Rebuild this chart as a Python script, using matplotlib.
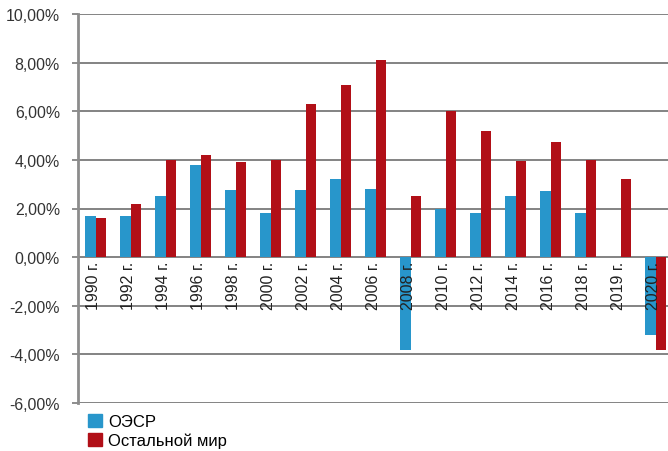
import matplotlib
matplotlib.use('Agg')
import matplotlib.pyplot as plt
from matplotlib import font_manager
from matplotlib.patches import Patch
import numpy as np

# Рост ВВП, % к предыдущему году
years = ['1990 г.', '1992 г.', '1994 г.', '1996 г.', '1998 г.', '2000 г.',
         '2002 г.', '2004 г.', '2006 г.', '2008 г.', '2010 г.', '2012 г.',
         '2014 г.', '2016 г.', '2018 г.', '2019 г.', '2020 г.']
oecd = [1.7, 1.7, 2.5, 3.8, 2.75, 1.8, 2.75, 3.2, 2.8, -3.8, 2.0, 1.8,
        2.5, 2.7, 1.8, 0.0, -3.2]
rest = [1.6, 2.2, 4.0, 4.2, 3.9, 4.0, 6.3, 7.1, 8.1, 2.5, 6.0, 5.2,
        3.95, 4.75, 4.0, 3.2, -3.8]
yticks = [-6, -4, -2, 0, 2, 4, 6, 8, 10]

blue = '#2896cb'
red = '#b10f17'

names = {f.name for f in font_manager.fontManager.ttflist}
narrow = 'Liberation Sans Narrow' if 'Liberation Sans Narrow' in names else 'Liberation Sans'
plt.rcParams['font.family'] = ['Liberation Sans', 'DejaVu Sans']

fig = plt.figure(figsize=(6.68, 4.52), dpi=100)
ax = fig.add_axes([78 / 668, 1 - 404 / 452, (673 - 78) / 668, (404 - 15) / 452])

x = np.arange(len(years))
w = 0.29
ax.bar(x - w / 2, oecd, w, color=blue, zorder=3)
ax.bar(x + w / 2, rest, w, color=red, zorder=3)

ax.set_xlim(-0.5, len(years) - 0.5)
ax.set_ylim(-6, 10)
ax.set_yticks(yticks)
ax.set_yticklabels([f'{v:.2f}'.replace('.', ',') + '%' for v in yticks],
                   fontsize=11.4, color='#333333')
ax.tick_params(axis='y', length=4, width=1.2, color='#7a7a7a', pad=9)
ax.set_xticks([])
ax.grid(axis='y', color='#7a7a7a', lw=1.3, zorder=1)
for s in ['top', 'right', 'bottom']:
    ax.spines[s].set_visible(False)
ax.spines['left'].set_color('#8c8c8c')
ax.spines['left'].set_linewidth(2)

# подписи лет под нулевой линией
for i, lab in enumerate(years):
    ax.text(i - 0.05, -0.15, lab, rotation=90, ha='center', va='top',
            fontsize=11.5, family=[narrow, 'DejaVu Sans'], color='#222222', zorder=4)

handles = [Patch(color=blue, label='ОЭСР'), Patch(color=red, label='Остальной мир')]
fig.legend(handles=handles, loc='upper left', bbox_to_anchor=(86 / 668, 1 - 413 / 452),
           frameon=False, fontsize=12, handlelength=0.85, handleheight=0.85,
           handletextpad=0.4, labelspacing=0.2, borderaxespad=0, borderpad=0.1)

fig.savefig('out.png', dpi=100)
